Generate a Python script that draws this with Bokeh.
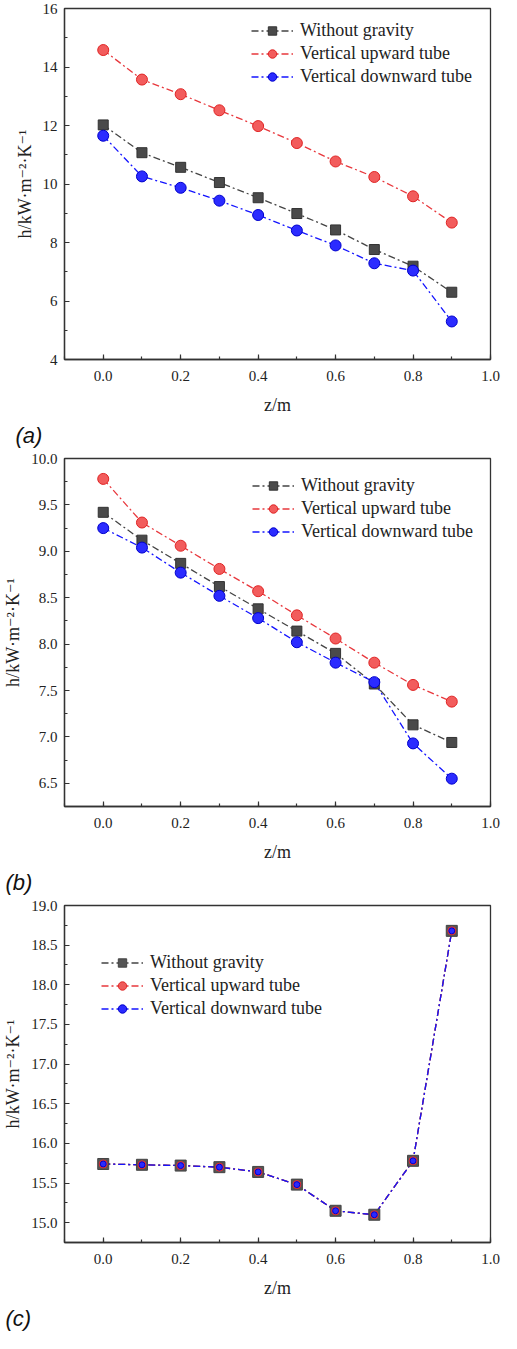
from bokeh.plotting import figure
from bokeh.models import Range1d, SingleIntervalTicker, PrintfTickFormatter, Legend, LegendItem, Title
from bokeh.layouts import column
from bokeh.embed import file_html
from bokeh.resources import INLINE

z = [0.0, 0.1, 0.2, 0.3, 0.4, 0.5, 0.6, 0.7, 0.8, 0.9]

# panel (a)
a_without = [12.02, 11.07, 10.57, 10.05, 9.53, 8.99, 8.43, 7.76, 7.19, 6.30]
a_upward = [14.58, 13.57, 13.07, 12.52, 11.98, 11.40, 10.77, 10.24, 9.58, 8.68]
a_downward = [11.65, 10.26, 9.87, 9.43, 8.94, 8.41, 7.90, 7.29, 7.04, 5.30]

# panel (b)
b_without = [9.42, 9.12, 8.87, 8.62, 8.38, 8.14, 7.90, 7.57, 7.13, 6.94]
b_upward = [9.78, 9.31, 9.06, 8.81, 8.57, 8.31, 8.06, 7.80, 7.56, 7.38]
b_downward = [9.25, 9.04, 8.77, 8.52, 8.28, 8.02, 7.80, 7.59, 6.93, 6.55]

# panel (c)
c_without = [15.74, 15.73, 15.72, 15.70, 15.64, 15.48, 15.15, 15.10, 15.78, 18.68]
c_upward = [15.74, 15.73, 15.72, 15.70, 15.64, 15.48, 15.15, 15.10, 15.78, 18.68]
c_downward = [15.74, 15.73, 15.72, 15.70, 15.64, 15.48, 15.15, 15.10, 15.78, 18.68]

labels = ["Without gravity", "Vertical upward tube", "Vertical downward tube"]
panel_names = ["(a)", "(b)", "(c)"]

SERIF = "'Times New Roman', 'Liberation Serif', 'DejaVu Serif', serif"
SANS = "Arial, 'Liberation Sans', sans-serif"
DASH = "7 3 2 3"


def make_panel(name, yw, yu, yd, yrange, yint, yfmt, height, btop, bleft,
               legend_xy, small_markers=False):
    p = figure(width=501, height=height, output_backend="svg", toolbar_location=None,
               x_range=Range1d(-0.1, 1.0), y_range=Range1d(*yrange),
               min_border_top=btop, min_border_bottom=0, min_border_left=bleft,
               min_border_right=11, background_fill_color="white", border_fill_color="white")
    p.grid.visible = False
    p.outline_line_color = "#333333"
    p.outline_line_width = 1.3

    p.xaxis.ticker = SingleIntervalTicker(interval=0.2, num_minor_ticks=2)
    p.xaxis.formatter = PrintfTickFormatter(format="%.1f")
    p.yaxis.ticker = SingleIntervalTicker(interval=yint, num_minor_ticks=2)
    p.yaxis.formatter = PrintfTickFormatter(format=yfmt)
    for ax in (p.xaxis[0], p.yaxis[0]):
        ax.axis_line_color = "#333333"
        ax.axis_line_width = 1.3
        ax.major_tick_in = 5
        ax.major_tick_out = 0
        ax.minor_tick_in = 3
        ax.minor_tick_out = 0
        ax.major_tick_line_color = "#333333"
        ax.minor_tick_line_color = "#333333"
        ax.major_tick_line_width = 1.2
        ax.minor_tick_line_width = 1.2
        ax.major_label_text_font = SERIF
        ax.major_label_text_font_size = "15px"
        ax.major_label_text_color = "#222222"
        ax.axis_label_text_font = SERIF
        ax.axis_label_text_font_size = "18px"
        ax.axis_label_text_font_style = "normal"
        ax.axis_label_text_color = "#222222"
    p.xaxis.axis_label = "z/m"
    p.xaxis.major_label_standoff = 11
    p.xaxis.axis_label_standoff = 11
    p.yaxis.axis_label = "h/kW·m⁻²·K⁻¹"
    p.yaxis.major_label_standoff = 7
    p.yaxis.axis_label_standoff = 5

    lw = p.line(z, yw, line_color="#444444", line_width=1.3, line_dash=DASH)
    lu = p.line(z, yu, line_color="#e8383d", line_width=1.3, line_dash=DASH)
    ld = p.line(z, yd, line_color="#1414ff", line_width=1.3, line_dash=DASH)
    if small_markers:
        sw = p.scatter(z, yw, marker="square", size=11, fill_color="#555555", line_color="#444444")
        su = p.scatter(z, yu, marker="circle", size=8, fill_color="#ee5a5a", line_color="#e02a2a")
        sd = p.scatter(z, yd, marker="circle", size=6, fill_color="#2a2aff", line_color="#0000cc")
    else:
        sw = p.scatter(z, yw, marker="square", size=10, fill_color="#4a4a4a", line_color="#333333")
        su = p.scatter(z, yu, marker="circle", size=11, fill_color="#f25c5c", line_color="#e02424")
        sd = p.scatter(z, yd, marker="circle", size=11, fill_color="#2b2bff", line_color="#0000cc")

    legend = Legend(items=[LegendItem(label=labels[0], renderers=[lw, sw]),
                           LegendItem(label=labels[1], renderers=[lu, su]),
                           LegendItem(label=labels[2], renderers=[ld, sd])],
                    location=legend_xy, border_line_color=None, background_fill_alpha=0,
                    label_text_font=SERIF, label_text_font_size="18px", label_text_color="#222222",
                    glyph_width=42, glyph_height=21, label_height=21, spacing=2, padding=5,
                    label_standoff=7, margin=0)
    p.add_layout(legend, "center")

    t = Title(text=name, align="left", text_font=SANS, text_font_style="italic",
              text_font_size="22px", text_color="#111111", offset=-bleft + 2, standoff=6)
    p.add_layout(t, "below")
    return p


pa = make_panel(panel_names[0], a_without, a_upward, a_downward, (4, 16), 2, "%d",
                450, 8, 51, (187, 272))
pb = make_panel(panel_names[1], b_without, b_upward, b_downward, (6.25, 10.0), 0.5, "%.1f",
                447, 8, 61, (188, 264))
pc = make_panel(panel_names[2], c_without, c_upward, c_downward, (14.75, 19.0), 0.5, "%.1f",
                436, 8, 61, (37, 223), small_markers=True)

layout = column(pa, pb, pc, spacing=0)
open("out.html", "w").write(file_html(layout, INLINE))
